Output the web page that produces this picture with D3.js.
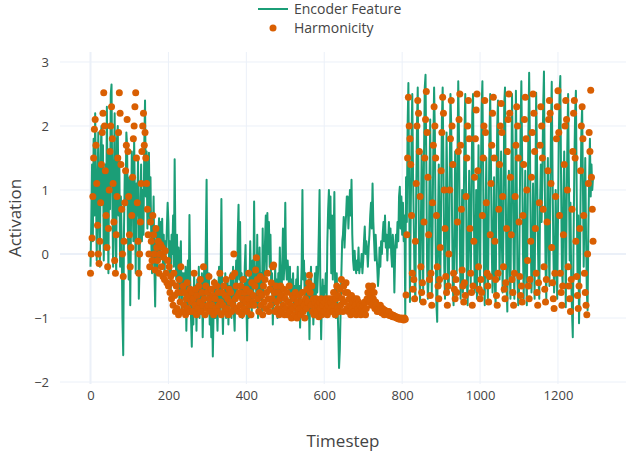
<!DOCTYPE html>
<html lang="en">
<head>
<meta charset="UTF-8">
<title>Encoder Feature vs Harmonicity</title>
<script src="https://d3js.org/d3.v7.min.js"></script>
<style>
  body { margin: 0; background: #fff; font-family: "Open Sans", sans-serif; }
  .axis text { font-size: 13px; fill: #444; font-family: "Open Sans", sans-serif; }
  .axis path, .axis line { display: none; }
  .title { font-size: 17px; fill: #444; }
  .legend text { font-size: 14px; fill: #444; }
</style>
</head>
<body>
<div id="chart"></div>
<script>
// one sample every 2 timesteps, starting at timestep 0
const step = 2;

const encoder = [
  -0.2, 0.5, 1.4, 0.2, 1.8, 0.6, 2.2, 1.1, -0.1, 1.0,
  1.9, 0.4, -0.2, 1.5, 2.0, 0.8, 1.7, -0.1, 0.6, 1.4,
  0.1, 2.3, 1.0, -0.3, 1.6, 0.7, 2.5, 2.65, 0.9, -0.2,
  1.2, 2.2, 0.3, -0.3, 1.8, 2.0, 0.6, 1.5, -0.2, 0.9,
  0.2, -1.0, -1.58, 0.4, 1.3, 0.8, 1.9, 1.7, 0.3, -0.4,
  1.2, -0.8, 0.5, 1.6, 1.2, 0.2, 1.8, 0.9, -0.3, 1.1,
  0.6, 1.5, -0.7, -0.2, 0.9, 1.4, 0.2, 1.0, 0.3, 1.7,
  2.4, 0.9, 1.6, 0.4, 1.0, 1.58, 0.5, 1.2, 0.2, -0.3,
  0.3, 0.9, -0.2, -0.82, 0.1, 0.4, -0.3, 0.3, 0.56, -0.1,
  0.5, 0.1, 0.55, -0.2, 0.3, -0.4, 0.2, 0.0, 0.4, 0.8,
  0.5, -0.3, 0.2, -0.6, 0.3, 0.0, 0.6, -0.2, 1.48, 0.2,
  -0.4, 0.3, -0.5, 0.1, -0.7, -0.2, 0.2, -0.9, -0.3, -0.6,
  -0.3, -0.9, -0.2, -1.2, -0.5, -0.1, -0.8, 0.61, -0.4, -1.0,
  -1.45, -0.6, -1.1, -0.3, -0.9, -0.5, -1.2, -0.4, -0.8, -0.2,
  -1.0, -0.5, -0.9, -0.3, -1.3, -0.6, -0.2, -0.8, 0.2, 1.16,
  -0.5, -0.9, -0.3, -1.1, -0.6, -1.3, -0.7, -1.6, -0.9, -0.4,
  -1.0, -0.5, -0.8, -1.2, -0.6, -0.2, -0.9, -0.4, 0.86, -0.7,
  -1.25, -0.6, -0.9, -0.3, -1.0, -0.7, -0.4, -1.1, -0.5, -0.8,
  -0.3, -1.0, -0.6, -0.2, -0.9, -1.2, -0.5, -0.1, -0.7, 0.3,
  0.77, -0.4, 0.5, -0.8, -0.3, -1.0, -0.5, -0.9, -0.2, 0.14,
  -0.7, -1.35, -0.4, -1.0, -0.6, 0.2, -0.5, -0.9, -0.1, -0.6,
  0.82, -0.5, -0.2, -0.8, 0.3, -1.0, -0.4, 0.1, -0.7, -0.3,
  -0.9, 0.4, -0.6, -0.2, 0.2, 0.6, -0.3, 0.64, 0.0, 0.5,
  -0.2, 0.3, -0.6, -0.3, -1.1, -0.5, -0.8, -0.2, -0.7, -0.4,
  -1.0, -0.3, -0.6, 0.1, -0.5, -0.9, -0.2, 0.4, -0.4, -0.1,
  0.8, -0.2, -0.4, -0.1, -0.3, -0.6, -0.2, -0.9, -0.4, -0.7,
  -0.3, -0.8, -0.5, -1.0, -0.4, -0.6, -0.2, -0.9, -0.5, -1.15,
  -0.6, -0.2, 1.0, -0.4, -0.1, -0.7, -0.3, -0.8, -0.5, -1.0,
  -0.4, -1.33, -0.6, -0.2, -0.9, -0.5, -1.1, -0.7, -0.3, -0.8,
  -0.2, -0.6, -0.3, 0.3, 1.0, -0.5, -1.33, -0.7, -0.4, -0.9,
  -0.5, -0.6, -0.3, -0.8, 0.2, 0.7, 1.0, 0.4, 0.9, -0.3,
  0.6, -0.4, 0.2, 0.97, -0.6, -1.0, -0.3, -0.8, -1.2, -1.78,
  -1.5, -0.9, -0.3, 0.2, 0.3, 0.58, 0.1, 0.4, 0.6, 0.9,
  0.9, 0.4, 0.7, 1.0, 0.6, 1.16, 0.3, -0.1, -0.25, 0.05,
  -0.2, -0.3, -0.1, -0.25, 0.1, -0.3, -0.15, -0.2, 0.0, -0.3,
  -0.1, 0.2, 0.43, 0.0, 0.2, 0.05, -0.2, 0.1, 0.3, 0.6,
  0.8, 0.4, 1.1, 0.5, 0.2, -0.1, 0.3, 0.0, -0.2, -0.5,
  -0.3, 0.1, -0.2, 0.2, 0.0, 0.3, 0.5, 0.2, 0.6, 0.1,
  0.3, -0.1, 0.2, 0.5, 0.1, 0.4, 0.0, -0.2, 0.3, 0.1,
  -0.6, 0.0, 0.3, 0.1, 0.5, 0.2, 0.9, 1.05, 0.4, 0.9,
  0.3, 0.8, 0.2, 0.6, -0.98, 1.2, 0.5, 2.0, 2.67, 1.0,
  -0.75, 0.6, 1.8, 2.5, 1.2, 0.4, -0.5, -0.7, 0.9, 2.0,
  2.6, 1.0, -0.3, -0.75, 0.4, 1.6, 0.8, -0.6, 1.5, 2.6,
  2.8, 1.4, -0.2, -0.7, -0.4, 1.1, 2.1, 0.6, -0.6, 0.3,
  1.7, 2.6, 1.9, 0.2, -0.8, -1.06, 0.5, 1.4, 0.1, -0.5,
  0.8, 2.1, 2.6, 1.3, -0.2, -0.7, 0.4, 1.9, 0.9, -0.6,
  -0.4, 1.2, 2.5, 2.0, 0.6, -0.5, -0.8, 0.3, 1.6, 0.4,
  -0.3, 1.5, 2.7, 1.8, 0.2, -0.7, -0.2, 1.0, -0.6, 0.7,
  1.9, 2.5, 1.1, -0.4, -0.8, 0.2, 1.3, 0.5, -0.5, 0.9,
  2.2, 2.5, 0.7, -0.6, -0.2, 1.0, -0.7, 0.4, 1.7, 0.6,
  -0.5, 1.1, 2.3, 2.7, 1.2, -0.3, -0.8, 0.6, 1.5, -0.2,
  -0.7, 0.5, 1.8, 2.5, 1.4, 0.1, -0.6, 0.3, 1.2, -0.5,
  -0.8, 0.9, 2.0, 2.4, 0.8, -0.4, 0.5, 1.6, 0.2, -0.6,
  0.4, 2.35, 2.6, 1.0, -0.5, -0.9, 0.7, 1.3, -0.2, -0.7,
  0.9, 2.5, 1.6, 0.0, -0.7, 0.6, 2.55, 1.2, -0.4, -0.8,
  -0.6, 0.8, 2.0, 2.7, 1.5, 0.1, -0.7, 0.4, 1.3, -0.3,
  -0.8, 0.6, 1.9, 2.83, 1.7, 0.3, -0.6, -0.2, 1.1, 0.2,
  -0.7, 1.0, 2.52, 1.6, 0.4, -0.4, -0.7, 0.8, 1.4, 0.5,
  1.3, 2.3, 2.85, 1.2, -0.2, -0.7, 0.6, 1.5, 0.3, -0.5,
  0.7, 2.0, 2.69, 1.3, 0.1, -0.6, -0.3, 1.0, 0.2, -0.7,
  0.5, 1.8, 2.5, 2.78, 1.1, -0.2, -0.5, 0.9, 1.6, 0.4,
  -0.83, 0.6, 1.7, 2.5, 1.2, -0.1, 0.8, -0.4, -0.9, -1.3,
  0.2, 1.4, 2.2, 2.55, 1.0, -0.3, 0.6, -1.08, -0.5, 0.9,
  1.9, 2.3, 1.1, -0.2, 0.7, 1.5, 0.3, -0.6, -0.88, 0.4,
  1.2, 1.8, 0.9, 1.4, 1.0, 1.2
];

const harmonicity = [
  -0.3, 0.0, 0.25, 0.9, 1.5, 1.95, 2.1, 1.7, 1.1, 0.45,
  0.0, -0.15, 0.2, 0.8, 1.4, 1.9, 2.2, 2.52, 2.0, 1.3,
  0.6, 0.1, -0.2, 0.4, 1.0, 1.6, 2.0, 2.3, 1.8, 1.1,
  0.5, -0.1, -0.3, 0.3, 0.9, 1.5, 1.9, 2.52, 2.2, 1.4,
  0.7, 0.0, -0.35, 0.2, 0.8, 1.3, 1.7, 2.1, 1.6, 0.9,
  0.3, -0.2, 0.1, 0.6, 1.2, 1.8, 2.0, 2.3, 2.52, 1.5,
  0.8, 0.2, -0.3, 0.0, 0.5, 1.1, 1.6, 2.0, 2.2, 1.7,
  1.9, 1.5, 1.1, 0.7, 0.3, 0.0, -0.2, 0.5, 0.2, -0.1,
  0.6, 0.3, 0.0, -0.25, 0.4, 0.1, -0.1, 0.2, -0.3, 0.0,
  0.15, -0.2, 0.1, -0.35, -0.05, -0.4, 0.05, -0.3, -0.45, -0.1,
  -0.5, -0.2, -0.6, -0.35, -0.7, -0.45, -0.8, -0.3, -0.65, -0.9,
  -0.5, -0.85, -0.6, -0.95, -0.4, -0.75, -0.2, -0.6, -0.9, -0.5,
  -0.8, -0.6, -0.95, -0.7, -0.45, -0.85, -0.65, -0.9, -0.55, -0.75,
  -0.6, -0.9, -0.7, -0.3, -0.8, -0.55, -0.95, -0.65, -0.85, -0.5,
  -0.75, -0.4, -0.9, -0.6, -0.8, -0.2, -0.7, -0.95, -0.5, -0.85,
  -0.6, -0.8, -0.35, -0.7, -0.9, -0.55, -0.8, -0.65, -0.95, -0.45,
  -0.7, -0.85, -0.5, -0.9, -0.6, -0.8, -0.3, -0.75, -0.95, -0.6,
  -0.8, -0.5, -0.9, -0.65, -0.4, -0.85, -0.7, -0.95, -0.55, -0.75,
  -0.6, -0.9, -0.35, -0.8, 0.0, -0.3, -0.7, -0.5, -0.85, -0.65,
  -0.9, -0.6, -0.8, -0.5, -0.95, -0.7, -0.4, -0.85, -0.6, -0.75,
  -0.55, -0.9, -0.7, -0.3, -0.8, -0.6, -0.95, -0.45, -0.75, -0.65,
  -0.8, -0.5, -0.25, -0.06, -0.4, -0.7, -0.9, -0.6, -0.35, -0.8,
  -0.65, -0.95, -0.5, -0.75, -0.4, -0.85, -0.6, -0.3, -0.7, -0.9,
  -0.55, -0.8, -0.45, -0.7, -0.2, -0.17, -0.6, -0.9, -0.5, -0.75,
  -0.85, -0.6, -0.95, -0.7, -0.5, -0.9, -0.65, -0.8, -0.55, -0.95,
  -0.7, -0.85, -0.6, -0.95, -0.75, -0.5, -0.9, -0.8, -1.0, -0.65,
  -0.85, -0.7, -0.95, -0.6, -0.8, -1.0, -0.75, -0.9, -0.65, -0.85,
  -0.95, -0.75, -0.6, -0.9, -0.8, -1.0, -0.7, -0.85, -0.55, -0.75,
  -0.45, -0.33, -0.6, -0.8, -0.5, -0.9, -0.7, -0.95, -0.75, -0.85,
  -0.7, -0.9, -0.8, -0.98, -0.75, -0.85, -0.7, -0.95, -0.8, -0.9,
  -0.75, -0.9, -0.7, -0.85, -0.95, -0.8, -0.7, -0.9, -0.75, -0.85,
  -0.7, -0.9, -0.6, -0.8, -0.95, -0.7, -0.5, -0.85, -0.65, -0.9,
  -0.55, -0.8, -0.4, -0.7, -0.9, -0.5, -0.75, -0.6, -0.45, -0.85,
  -0.6, -0.9, -0.7, -0.8, -0.95, -0.65, -0.85, -0.75, -0.9, -0.7,
  -0.8, -0.95, -0.7, -0.85, -0.75, -0.9, -0.8, -0.95, -0.85, -0.9,
  -0.8, -0.9, -0.75, -0.95, -0.85, -0.7, -0.6, -0.5, -0.75, -0.65,
  -0.55, -0.8, -0.5, -0.7, -0.6, -0.85, -0.75, -0.8, -0.9, -0.85,
  -0.85, -0.9, -0.8, -0.88, -0.92, -0.85, -0.9, -0.95, -0.88, -0.92,
  -0.9, -0.93, -0.95, -0.9, -0.96, -0.94, -0.97, -0.95, -0.98, -0.96,
  -0.97, -0.99, -0.98, -1.0, -0.99, -1.01, -1.0, -1.02, -1.01, -1.0,
  -1.02, -1.01, -1.03, -1.0, -1.02, -0.64, 0.3, 1.5, 2.45, 2.0,
  1.8, 1.4, 0.6, -0.3, -0.55, -0.4, -0.7, 0.2, 1.1, 2.0,
  2.4, 2.2, 1.6, 0.9, -0.2, -0.6, -0.45, -0.75, 0.5, 1.5,
  2.1, 2.54, 1.9, 1.2, 0.3, -0.4, -0.65, -0.3, -0.8, 0.8,
  1.7, 2.3, 2.0, 1.5, 0.6, -0.2, -0.5, -0.7, -0.4, 0.1,
  1.3, 1.9, 2.45, 2.2, 1.0, 0.4, -0.35, -0.6, -0.8, -0.5,
  0.0, 1.0, 1.8, 2.4, 2.0, 1.4, -0.3, -0.55, -0.7, -0.4,
  -0.6, 0.5, 1.6, 2.1, 2.5, 1.7, 0.7, -0.25, -0.5, -0.75,
  -0.45, -0.65, 0.9, 1.5, 2.0, 2.4, 1.8, 0.4, -0.3, -0.6,
  -0.8, -0.5, 0.2, 1.2, 1.8, 2.25, 2.5, 1.3, -0.2, -0.55,
  -0.7, -0.4, -0.6, 0.6, 1.5, 2.0, 2.4, 1.9, 0.8, -0.3,
  -0.5, -0.75, -0.35, 0.3, 1.1, 1.7, 2.2, 2.45, 1.5, 0.2,
  -0.4, -0.65, -0.8, -0.3, 0.7, 1.4, 2.0, 2.35, 1.9, 0.9,
  -0.2, -0.55, -0.7, -0.45, 0.4, 1.6, 2.1, 2.5, 2.2, 1.2,
  0.3, -0.4, -0.6, -0.8, -0.3, 0.9, 1.7, 2.3, 2.0, 1.5,
  0.5, -0.35, -0.65, -0.5, -0.75, 0.6, 1.4, 2.1, 2.45, 1.8,
  1.0, -0.1, -0.5, -0.7, -0.4, 0.2, 1.2, 1.9, 2.5, 2.2,
  1.6, 0.4, -0.3, -0.6, -0.8, -0.45, 0.8, 1.7, 2.3, 2.0,
  1.5, 0.7, -0.2, -0.55, -0.75, -0.4, 0.5, 1.3, 2.1, 2.4,
  2.2, 1.1, 0.1, -0.45, -0.7, -0.85, -0.3, 0.9, 1.8, 2.3,
  2.55, 1.9, 0.6, -0.3, -0.6, -0.8, -0.5, 0.3, 1.4, 2.0,
  2.4, 2.1, 1.0, -0.2, -0.5, -0.7, -0.9, -0.4, 0.7, 1.6,
  2.2, 2.4, 1.5, 0.2, -0.35, -0.65, -0.85, -0.5, 0.4, 1.3,
  2.0, 2.3, 1.8, 0.6, -0.3, -0.6, -0.8, -0.95, 0.0, 1.1,
  1.9, 1.6, 2.56, 1.2, 0.7, 0.2
];

const xTicks = [0, 200, 400, 600, 800, 1000, 1200];
const yTicks = [-2, -1, 0, 1, 2, 3];
const seriesNames = ["Encoder Feature", "Harmonicity"];
const colors = ["#1b9e77", "#d95f02"];

const W = 629, H = 455;
const margin = { top: 52, right: 3, bottom: 71, left: 60 };
const width = W - margin.left - margin.right,
      height = H - margin.top - margin.bottom;

const svg = d3.select("#chart").append("svg")
    .attr("width", W)
    .attr("height", H);

const g = svg.append("g")
    .attr("transform", `translate(${margin.left},${margin.top})`);

const x = d3.scaleLinear().domain([-78.3, 1374.6]).range([0, width]);
const y = d3.scaleLinear().domain([-2.031, 3.156]).range([height, 0]);

// grid
g.append("g").selectAll("line.vgrid")
    .data(xTicks).enter().append("line")
    .attr("x1", d => x(d)).attr("x2", d => x(d))
    .attr("y1", 0).attr("y2", height)
    .attr("stroke", "#ebf0f8")
    .attr("stroke-width", d => d === 0 ? 2 : 1);

g.append("g").selectAll("line.hgrid")
    .data(yTicks).enter().append("line")
    .attr("x1", 0).attr("x2", width)
    .attr("y1", d => y(d)).attr("y2", d => y(d))
    .attr("stroke", "#ebf0f8")
    .attr("stroke-width", d => d === 0 ? 2 : 1);

// axes
g.append("g")
    .attr("class", "axis")
    .attr("transform", `translate(0,${height})`)
    .call(d3.axisBottom(x).tickValues(xTicks).tickSize(0).tickPadding(7).tickFormat(d3.format("d")));

g.append("g")
    .attr("class", "axis")
    .call(d3.axisLeft(y).tickValues(yTicks).tickSize(0).tickPadding(11)
        .tickFormat(d => d < 0 ? "\u2212" + Math.abs(d) : d));

// encoder line
const line = d3.line()
    .x((d, i) => x(i * step))
    .y(d => y(d));

g.append("path")
    .datum(encoder)
    .attr("fill", "none")
    .attr("stroke", colors[0])
    .attr("stroke-width", 2)
    .attr("stroke-linejoin", "round")
    .attr("d", line);

// harmonicity markers
g.append("g").selectAll("circle")
    .data(harmonicity).enter().append("circle")
    .attr("cx", (d, i) => x(i * step))
    .attr("cy", d => y(d))
    .attr("r", 3.5)
    .attr("fill", colors[1]);

// axis titles
svg.append("text")
    .attr("class", "title")
    .attr("x", margin.left + width / 2)
    .attr("y", 447)
    .attr("text-anchor", "middle")
    .text("Timestep");

svg.append("text")
    .attr("class", "title")
    .attr("transform", `translate(21,${margin.top + height / 2}) rotate(-90)`)
    .attr("text-anchor", "middle")
    .text("Activation");

// legend
const legend = svg.append("g").attr("class", "legend");
legend.append("line")
    .attr("x1", 258).attr("x2", 288)
    .attr("y1", 9).attr("y2", 9)
    .attr("stroke", colors[0])
    .attr("stroke-width", 2);
legend.append("circle")
    .attr("cx", 273).attr("cy", 28)
    .attr("r", 3.5)
    .attr("fill", colors[1]);
legend.selectAll("text")
    .data(seriesNames).enter().append("text")
    .attr("x", 294)
    .attr("y", (d, i) => 14 + i * 19)
    .text(d => d);
</script>
</body>
</html>
